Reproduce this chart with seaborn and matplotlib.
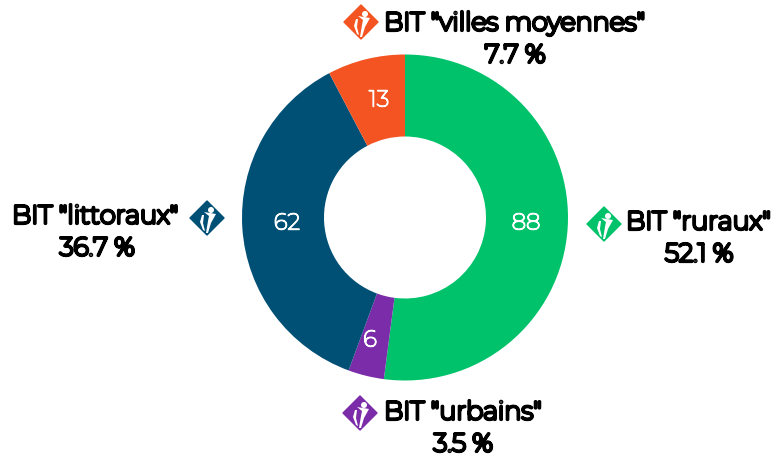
import matplotlib
matplotlib.use("Agg")
import matplotlib.pyplot as plt
import matplotlib.patheffects as pe
import seaborn as sns
from matplotlib.patches import Circle, Polygon

sns.set_theme(style="white")
plt.rcParams['font.family'] = ['Montserrat', 'Open Sans', 'DejaVu Sans']

categories = ['BIT "ruraux"', 'BIT "urbains"', 'BIT "littoraux"', 'BIT "villes moyennes"']
values = [88, 6, 62, 13]
shares = ['52.1 %', '3.5 %', '36.7 %', '7.7 %']
colors = ['#00C26A', '#7B2CA8', '#004F75', '#F35421']

W, H = 775, 455
fig = plt.figure(figsize=(W/100, H/100), dpi=100)
cx, cy, R = 405, 217.5, 163
size = 82/163
pie_ax = fig.add_axes([(cx-R)/W, 1-(cy+R)/H, 2*R/W, 2*R/H], zorder=1)
pie_ax.pie(values, colors=colors, startangle=90, counterclock=False, radius=1,
           wedgeprops=dict(width=size, linewidth=0))
pie_ax.set_xlim(-1, 1); pie_ax.set_ylim(-1, 1)

ax = fig.add_axes([0, 0, 1, 1], zorder=2)
ax.set_xlim(0, W); ax.set_ylim(H, 0); ax.axis('off')

val_pos = [(526, 223), (370, 340), (287, 223), (379, 100)]
for v, (x, y) in zip(values, val_pos):
    ax.text(x, y, str(v), color='white', fontsize=16.5, ha='center', va='center',
            path_effects=[pe.withStroke(linewidth=1.0, foreground='white')])

def icon(x, y, c, r=17):
    ax.add_patch(Polygon([(x-r, y), (x, y-r), (x+r, y), (x, y+r)], closed=True, fc=c, ec=c, lw=1, joinstyle='round'))
    ax.add_patch(Circle((x+4, y-8), 3, fc='white', ec='none'))
    ax.add_patch(Polygon([(x-3, y-6), (x+9, y-4), (x+4, y+5), (x+1, y+15), (x-1, y+15), (x+1, y+3), (x+2, y-2)], closed=True, fc='white', ec='none'))
    ax.add_patch(Polygon([(x-5, y-3), (x-3, y-3), (x-4, y+5), (x-2, y+13), (x-4, y+12), (x-7, y+4)], closed=True, fc='white', ec='none'))

labels = [
    (626, 222, 699, 254, 604, 224),
    (384, 412, 463, 444, 360, 413),
    (12, 216, 97, 248, 207, 218),
    (384, 23, 515, 55, 361, 22),
]
bold = [pe.withStroke(linewidth=2.3, foreground='black')]
for cat, sh, c, (lx, ly, sx, sy, ix, iy) in zip(categories, shares, colors, labels):
    ax.text(lx, ly, cat, color='black', fontsize=18.4, ha='left', va='center', path_effects=bold)
    ax.text(sx, sy, sh, color='black', fontsize=18.4, ha='center', va='center', path_effects=bold)
    icon(ix, iy, c)
fig.savefig('out.png', dpi=100, facecolor='white')
